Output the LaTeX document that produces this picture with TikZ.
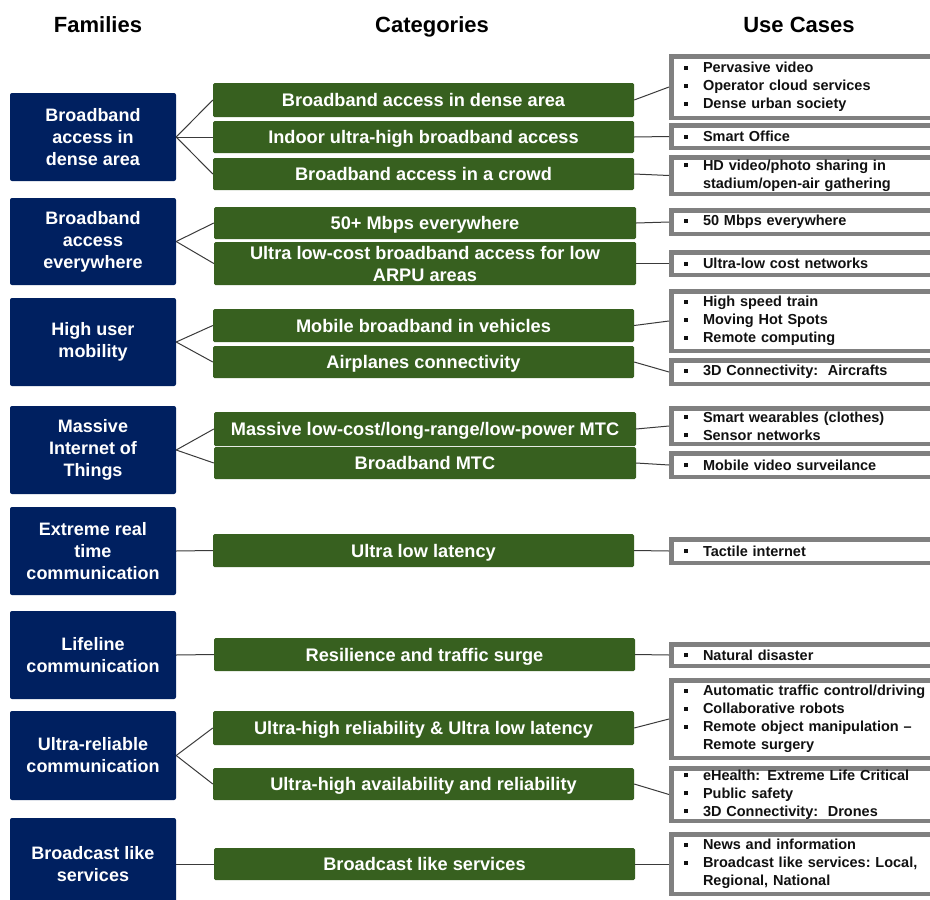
\documentclass[tikz,border=0pt]{standalone}
\usepackage{fontspec}
\setmainfont{Liberation Sans}
\definecolor{navy}{HTML}{002060}
\definecolor{catgreen}{HTML}{37601F}
\definecolor{ucgray}{HTML}{808080}
\definecolor{linkgray}{HTML}{3A3A3A}
\definecolor{ink}{HTML}{111111}
\newcommand\rectnode[7]{\node[#1, minimum width={(#5-#3)*1pt}, minimum height={(#6-#4)*1pt}] (#2) at ({(#3+#5)/2},{(#4+#6)/2}) {#7};}
\newcommand\ucnode[4]{\node[uc, minimum height={(#3-#2-4.5)*1pt}] (#1) at (669,{(#2+#3)/2}) {#4};}
\newcommand\ub{\makebox[19pt][l]{\rule[3pt]{4pt}{4pt}}}
\newcommand\uind{\hspace*{19pt}}
\begin{document}
\begin{tikzpicture}[x=1pt,y=-1pt,
  fam/.style={fill=navy, rounded corners=2pt, text=white, font=\bfseries\fontsize{18}{22}\selectfont, align=center, inner sep=0pt},
  catbase/.style={fill=catgreen, rounded corners=1.5pt, text=white, font=\bfseries\fontsize{18.2}{22}\selectfont, align=center, inner sep=0pt},
  cat/.style={catbase, text height=13pt, text depth=0pt},
  cattwo/.style={catbase},
  uc/.style={draw=ucgray, line width=4.5pt, fill=white, anchor=west, text width=248pt, inner xsep=12.75pt, inner ysep=0pt, align=left, font=\bfseries\fontsize{14.5}{18}\selectfont, text=ink},
  link/.style={draw=linkgray, line width=1pt},
  head/.style={font=\bfseries\fontsize{22}{26}\selectfont, text=black, inner sep=0pt, anchor=base}
]
\useasboundingbox (0,0) rectangle (930,900);
\clip (0,0) rectangle (930,900);

% headers
\node[head] (h1) at (98,32) {Families};
\node[head] (h2) at (432,32) {Categories};
\node[head] (h3) at (799,32) {Use Cases};

% families
\rectnode{fam}{f1}{10}{93}{176}{181}{Broadband\\access in\\dense area}
\rectnode{fam}{f2}{10}{198}{176}{285}{Broadband\\access\\everywhere}
\rectnode{fam}{f3}{10}{298}{176}{386}{High user\\mobility}
\rectnode{fam}{f4}{10}{406}{176}{494}{Massive\\Internet of\\Things}
\rectnode{fam}{f5}{10}{507}{176}{595}{Extreme real\\time\\communication}
\rectnode{fam}{f6}{10}{611}{176}{699}{Lifeline\\communication}
\rectnode{fam}{f7}{10}{711}{176}{800}{Ultra-reliable\\communication}
\rectnode{fam}{f8}{10}{818}{176}{910}{Broadcast like\\services}

% categories
\rectnode{cat}{c1}{213}{83}{634}{117}{Broadband access in dense area}
\rectnode{cat}{c2}{213}{121}{634}{153}{Indoor ultra-high broadband access}
\rectnode{cat}{c3}{213}{158}{634}{190}{Broadband access in a crowd}
\rectnode{cat}{c4}{214}{207}{636}{239}{50+ Mbps everywhere}
\rectnode{cattwo}{c5}{214}{242}{636}{285}{Ultra low-cost broadband access for low\\ARPU areas}
\rectnode{cat}{c6}{213}{309}{634}{342}{Mobile broadband in vehicles}
\rectnode{cat}{c7}{213}{346}{634}{378}{Airplanes connectivity}
\rectnode{cat}{c8}{214}{412}{636}{446}{Massive low-cost/long-range/low-power MTC}
\rectnode{cat}{c9}{214}{447}{636}{479}{Broadband MTC}
\rectnode{cat}{c10}{213}{534}{634}{567}{Ultra low latency}
\rectnode{cat}{c11}{214}{638}{635}{671}{Resilience and traffic surge}
\rectnode{cat}{c12}{213}{711}{634}{745}{Ultra-high reliability \& Ultra low latency}
\rectnode{cat}{c13}{213}{768}{634}{800}{Ultra-high availability and reliability}
\rectnode{cat}{c14}{214}{848}{635}{880}{Broadcast like services}

% use cases
\ucnode{u1}{54}{120}{\ub Pervasive video\\\ub Operator cloud services\\\ub Dense urban society}
\ucnode{u2}{123}{150}{\ub Smart Office}
\ucnode{u3}{155}{196}{\ub HD video/photo sharing in\\\uind stadium/open-air gathering}
\ucnode{u4}{208}{236}{\ub 50 Mbps everywhere}
\ucnode{u5}{250}{277}{\ub Ultra-low cost networks}
\ucnode{u6}{289}{353}{\ub High speed train\\\ub Moving Hot Spots\\\ub Remote computing}
\ucnode{u7}{358}{386}{\ub 3D Connectivity:\ \ Aircrafts}
\ucnode{u8}{406}{446}{\ub Smart wearables (clothes)\\\ub Sensor networks}
\ucnode{u9}{451}{479}{\ub Mobile video surveilance}
\ucnode{u10}{537}{565}{\ub Tactile internet}
\ucnode{u11}{642}{668}{\ub Natural disaster}
\ucnode{u12}{678}{760}{\ub Automatic traffic control/driving\\\ub Collaborative robots\\\ub Remote object manipulation --\\\uind Remote surgery}
\ucnode{u13}{766}{823}{\ub eHealth: Extreme Life Critical\\\ub Public safety\\\ub 3D Connectivity:\ \ Drones}
\ucnode{u14}{832}{896}{\ub News and information\\\ub Broadcast like services:\ Local,\\\uind Regional, National}

% family -> category
\foreach \f/\c in {f1/c1,f1/c2,f1/c3,f2/c4,f2/c5,f3/c6,f3/c7,f4/c8,f4/c9,f5/c10,f6/c11,f7/c12,f7/c13,f8/c14}
  \draw[link] (\f.east) -- (\c.west);
% category -> use case
\foreach \i in {1,...,14}
  \draw[link] (c\i.east) -- (u\i.west);
\end{tikzpicture}
\end{document}
